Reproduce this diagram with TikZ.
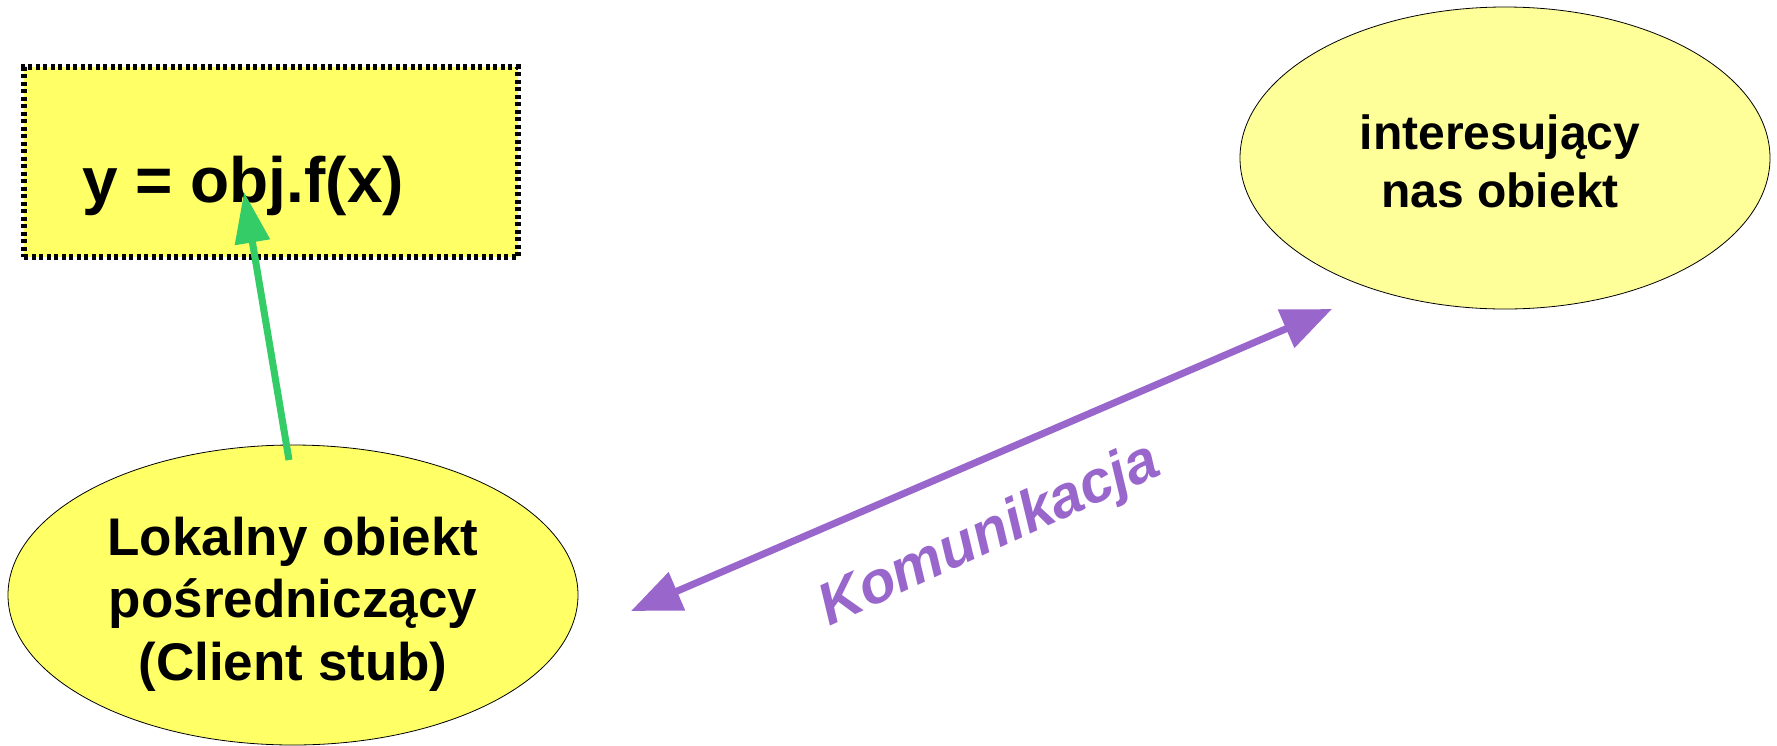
\documentclass[tikz,border=0pt]{standalone}
\usepackage{fontspec}
\setmainfont{Liberation Sans}
\usetikzlibrary{shapes.geometric,arrows.meta}
\definecolor{boxyellow}{RGB}{255,255,102}
\definecolor{paleyellow}{RGB}{255,255,153}
\definecolor{callgreen}{RGB}{51,204,102}
\definecolor{linkpurple}{RGB}{153,102,204}

\begin{document}
\begin{tikzpicture}[x=1pt,y=-1pt,
  callbox/.style={draw=black, line width=6.5pt, dash pattern=on 4pt off 3.5pt,
    fill=boxyellow, minimum width=494pt, minimum height=190pt, inner sep=0pt},
  blob/.style={ellipse, draw=black, line width=0.8pt, inner sep=0pt},
  blobtext/.style={align=center, inner sep=0pt},
  callarrow/.style={draw=callgreen, line width=7pt,
    -{Triangle[length=51pt,width=34pt]}},
  linkarrow/.style={draw=linkpurple, line width=7pt,
    {Triangle[length=50pt,width=40pt]}-{Triangle[length=50pt,width=40pt]}}
]
\useasboundingbox[fill=white] (0,0) rectangle (1777,745);

% call site box and its expression
\node[callbox] (call) at (271,162) {};
\node[anchor=base west, inner sep=0pt, font=\bfseries\fontsize{64}{70}\selectfont]
  (expr) at (82,202) {y = obj.f(x)};

% client stub (local proxy)
\node[blob, fill=boxyellow, minimum width=570pt, minimum height=300pt] (stub) at (293,595) {};
\node[blobtext, font=\bfseries\fontsize{53}{62.5}\selectfont] (stublabel) at (293,604)
  {Lokalny obiekt\\pośredniczący\\(Client stub)};

% remote object
\node[blob, fill=paleyellow, minimum width=530pt, minimum height=302pt] (obj) at (1505,158) {};
\node[blobtext, font=\bfseries\fontsize{48}{58}\selectfont] (objlabel) at (1500,161)
  {interesujący\\nas obiekt};

% connectors
\coordinate (stubtop) at (289,460);
\coordinate (objref) at (244,192);
\draw[callarrow] (stubtop) -- (objref);

\coordinate (stubside) at (631,611);
\coordinate (objside) at (1332,309);
\draw[linkarrow] (stubside) -- (objside);

\node[text=linkpurple, rotate=24.5, inner sep=0pt,
  font=\bfseries\itshape\fontsize{59}{59}\selectfont] (link) at (990,536) {Komunikacja};
\end{tikzpicture}
\end{document}
